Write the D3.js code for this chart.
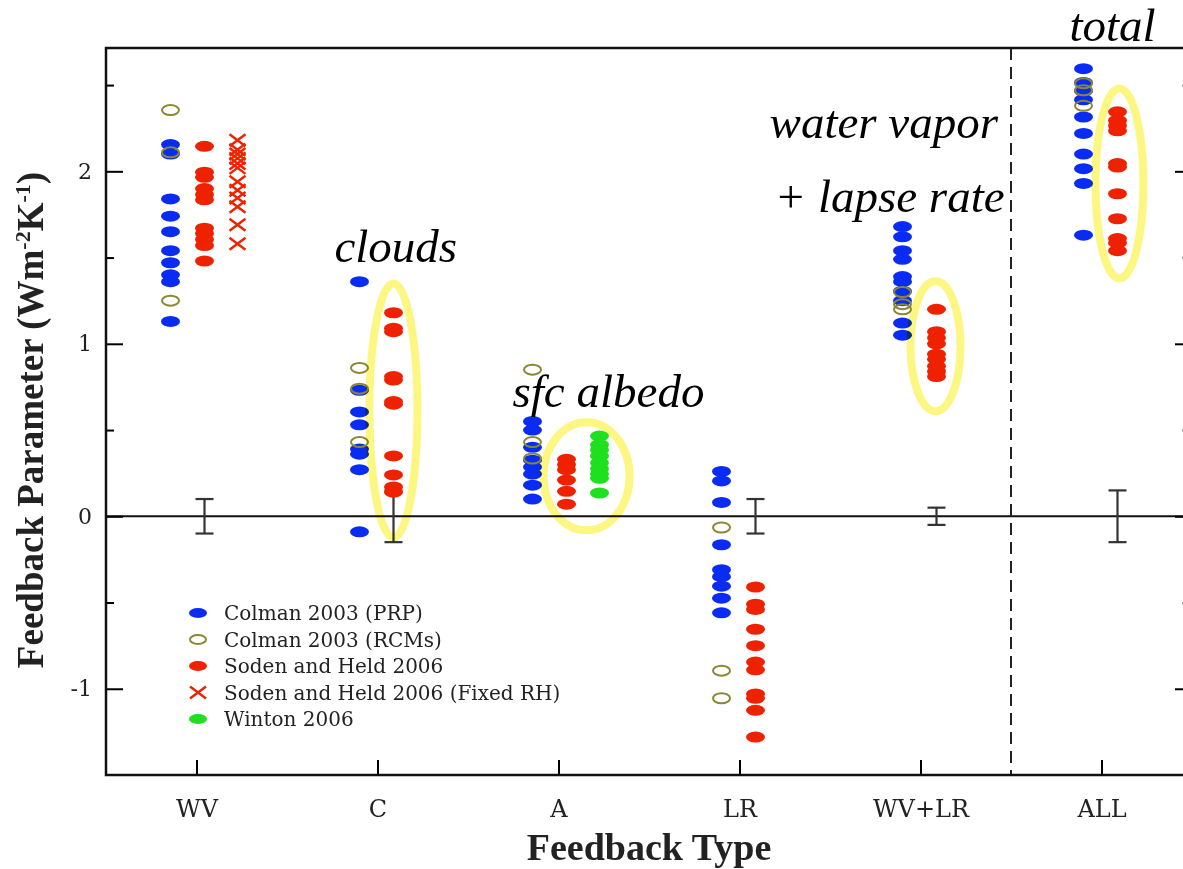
<!DOCTYPE html>
<html>
<head>
<meta charset="utf-8">
<script src="https://cdn.jsdelivr.net/npm/d3@7"></script>
<style>
  html, body { margin: 0; padding: 0; background: #fff; }
  svg { display: block; }
  .tick text { fill: #222; }
</style>
</head>
<body>
<svg id="chart" width="1183" height="869"></svg>
<script>
// feedback categories along the x axis
var categories = ['WV', 'C', 'A', 'LR', 'WV+LR', 'ALL'];

// Colman 2003 (PRP), one list per category
var colmanPRP = [
  [2.155, 2.10, 1.84, 1.74, 1.65, 1.54, 1.47, 1.40, 1.36, 1.13],
  [1.36, 0.73, 0.605, 0.53, 0.39, 0.36, 0.27, -0.09],
  [0.55, 0.50, 0.40, 0.325, 0.285, 0.245, 0.18, 0.10],
  [0.26, 0.205, 0.08, -0.165, -0.31, -0.35, -0.405, -0.475, -0.56],
  [1.68, 1.62, 1.54, 1.49, 1.39, 1.36, 1.305, 1.25, 1.12, 1.05],
  [2.595, 2.515, 2.465, 2.415, 2.315, 2.22, 2.10, 2.015, 1.93, 1.63]
];
// Colman 2003 (RCMs)
var colmanRCM = [
  [2.355, 2.11, 1.25],
  [0.86, 0.74, 0.43],
  [0.85, 0.43, 0.335],
  [-0.065, -0.895, -1.055],
  [1.30, 1.23, 1.20],
  [2.51, 2.47, 2.38]
];
// Soden and Held 2006
var sodenHeld = [
  [2.145, 1.995, 1.965, 1.90, 1.865, 1.835, 1.67, 1.64, 1.605, 1.57, 1.48],
  [1.18, 1.09, 1.07, 0.81, 0.79, 0.665, 0.65, 0.35, 0.24, 0.17, 0.14],
  [0.33, 0.30, 0.27, 0.21, 0.145, 0.07],
  [-0.41, -0.51, -0.54, -0.655, -0.75, -0.845, -0.89, -1.03, -1.055, -1.125, -1.28],
  [1.20, 1.07, 1.035, 1.0, 0.94, 0.91, 0.87, 0.84, 0.81],
  [2.345, 2.295, 2.265, 2.235, 2.045, 2.025, 1.87, 1.725, 1.61, 1.585, 1.54]
];
// Soden and Held 2006 (Fixed RH) - WV only
var sodenHeldFixedRH = [2.18, 2.125, 2.10, 2.075, 2.045, 2.02, 1.94, 1.89, 1.845, 1.795, 1.69, 1.58];
// Winton 2006 - A only
var winton = [0.465, 0.415, 0.385, 0.35, 0.31, 0.275, 0.245, 0.22, 0.135];
// error bar half widths per category (none for A)
var errorHalf = [0.1, 0.15, null, 0.1, 0.05, 0.15];

var yMajor = [-1, 0, 1, 2];
var yMinor = [-0.5, 0.5, 1.5, 2.5];

var legendNames = ['Colman 2003 (PRP)', 'Colman 2003 (RCMs)', 'Soden and Held 2006',
  'Soden and Held 2006 (Fixed RH)', 'Winton 2006'];

var svg = d3.select('#chart');

var x = d3.scaleLinear().domain([0.5, 6.5]).range([106, 1192]);
var y = d3.scaleLinear().domain([-1.5, 2.715]).range([775, 48]);

var BLUE = '#0a2cf2', RED = '#ee2200', GREEN = '#1ee01e', OLIVE = '#8a8733', YEL = '#fcf783';

// column offsets (px) inside a category
var threeCol = [-26, 8, 41], twoCol = [-18, 16];
function colX(ci, col) {
  var offs = (ci === 0 || ci === 2) ? threeCol : twoCol;
  return x(ci + 1) + offs[col];
}

function flatten(series) {
  var out = [];
  series.forEach(function (vals, ci) {
    vals.forEach(function (v) { out.push({ ci: ci, v: v }); });
  });
  return out;
}

var g = svg.append('g');

// zero line
g.append('line')
  .attr('x1', x(0.5)).attr('x2', x(6.5))
  .attr('y1', y(0)).attr('y2', y(0))
  .attr('stroke', '#111').attr('stroke-width', 2);

// dashed separator before ALL
g.append('line')
  .attr('x1', x(5.5)).attr('x2', x(5.5))
  .attr('y1', y(2.715)).attr('y2', y(-1.5))
  .attr('stroke', '#222').attr('stroke-width', 2)
  .attr('stroke-dasharray', '12,7');

// axes
var left = svg.append('g').attr('transform', 'translate(' + x(0.5) + ',0)')
  .call(d3.axisLeft(y).tickValues(yMajor).tickSize(-17).tickPadding(14)
    .tickFormat(function (d) { return String(d); }));
left.selectAll('text').style('font-family', '"DejaVu Serif", serif').style('font-size', '22px');

svg.append('g').attr('transform', 'translate(' + x(0.5) + ',0)')
  .call(d3.axisLeft(y).tickValues(yMinor).tickSize(-8).tickFormat(''));

svg.append('g').attr('transform', 'translate(' + x(6.5) + ',0)')
  .call(d3.axisRight(y).tickValues(yMajor).tickSize(-17).tickFormat(''));
svg.append('g').attr('transform', 'translate(' + x(6.5) + ',0)')
  .call(d3.axisRight(y).tickValues(yMinor).tickSize(-10).tickFormat(''))
  .selectAll('line').attr('stroke', '#999');

var bottom = svg.append('g').attr('transform', 'translate(0,' + y(-1.5) + ')')
  .call(d3.axisBottom(x).tickValues([1, 2, 3, 4, 5, 6]).tickSize(-15).tickPadding(25)
    .tickFormat(function (d) { return categories[d - 1]; }));
bottom.selectAll('text').style('font-family', '"DejaVu Serif", serif').style('font-size', '24px');

svg.selectAll('.domain').remove();
svg.selectAll('.tick line').attr('stroke-width', 2);

// frame
svg.append('rect')
  .attr('x', x(0.5)).attr('y', y(2.715))
  .attr('width', x(6.5) - x(0.5)).attr('height', y(-1.5) - y(2.715))
  .attr('fill', 'none').attr('stroke', '#111').attr('stroke-width', 2.5);

// error bars
var errs = errorHalf.map(function (h, ci) { return { ci: ci, h: h }; })
  .filter(function (d) { return d.h !== null; });
var eb = g.selectAll('.err').data(errs).enter().append('g').attr('class', 'err')
  .attr('stroke', '#333').attr('stroke-width', 2.2);
eb.append('line')
  .attr('x1', function (d) { return colX(d.ci, 1); }).attr('x2', function (d) { return colX(d.ci, 1); })
  .attr('y1', function (d) { return y(d.h); }).attr('y2', function (d) { return y(-d.h); });
[1, -1].forEach(function (s) {
  eb.append('line')
    .attr('x1', function (d) { return colX(d.ci, 1) - 9; }).attr('x2', function (d) { return colX(d.ci, 1) + 9; })
    .attr('y1', function (d) { return y(s * d.h); }).attr('y2', function (d) { return y(s * d.h); });
});

// markers
var pts = g.append('g');
pts.selectAll('.prp').data(flatten(colmanPRP)).enter().append('ellipse')
  .attr('cx', function (d) { return colX(d.ci, 0); }).attr('cy', function (d) { return y(d.v); })
  .attr('rx', 9.5).attr('ry', 5.5).attr('fill', BLUE);

pts.selectAll('.rcm').data(flatten(colmanRCM)).enter().append('ellipse')
  .attr('cx', function (d) { return colX(d.ci, 0); }).attr('cy', function (d) { return y(d.v); })
  .attr('rx', 8.5).attr('ry', 5).attr('fill', 'none').attr('stroke', OLIVE).attr('stroke-width', 2);

pts.selectAll('.sh').data(flatten(sodenHeld)).enter().append('ellipse')
  .attr('cx', function (d) { return colX(d.ci, 1); }).attr('cy', function (d) { return y(d.v); })
  .attr('rx', 9.5).attr('ry', 5.5).attr('fill', RED);

pts.selectAll('.fix').data(sodenHeldFixedRH).enter().append('path')
  .attr('transform', function (d) { return 'translate(' + colX(0, 2) + ',' + y(d) + ')'; })
  .attr('d', 'M-8,-6L8,6M-8,6L8,-6')
  .attr('stroke', RED).attr('stroke-width', 2.4).attr('fill', 'none');

pts.selectAll('.win').data(winton).enter().append('ellipse')
  .attr('cx', colX(2, 2)).attr('cy', function (d) { return y(d); })
  .attr('rx', 9.5).attr('ry', 5.5).attr('fill', GREEN);

// highlight ellipses (data coords: centre cat / value, radii in px)
var rings = [
  { cx: 2.088, cy: 0.614, rx: 24, ry: 127 },
  { cx: 3.155, cy: 0.232, rx: 43, ry: 54 },
  { cx: 5.083, cy: 0.986, rx: 25, ry: 65 },
  { cx: 6.099, cy: 1.930, rx: 24, ry: 95 }
];
svg.selectAll('.ring').data(rings).enter().append('ellipse')
  .attr('cx', function (d) { return x(d.cx); }).attr('cy', function (d) { return y(d.cy); })
  .attr('rx', function (d) { return d.rx; }).attr('ry', function (d) { return d.ry; })
  .attr('fill', 'none').attr('stroke', YEL).attr('stroke-width', 8)
  .style('mix-blend-mode', 'multiply');

// annotations
var notes = [
  { t: 'clouds', x: 1.762, y: 1.472 },
  { t: 'sfc albedo', x: 2.746, y: 0.632 },
  { t: 'water vapor', x: 4.166, y: 2.191 },
  { t: '+ lapse rate', x: 4.193, y: 1.762 },
  { t: 'total', x: 5.823, y: 2.753 }
];
svg.selectAll('.note').data(notes).enter().append('text')
  .attr('x', function (d) { return x(d.x); }).attr('y', function (d) { return y(d.y); })
  .style('font-family', '"Liberation Serif", serif').style('font-style', 'italic')
  .style('font-size', '47px').attr('fill', '#000')
  .text(function (d) { return d.t; });

// legend
var lg = svg.append('g').attr('transform', 'translate(198,613)');
var rows = lg.selectAll('g').data(legendNames).enter().append('g')
  .attr('transform', function (d, i) { return 'translate(0,' + (i * 26.5) + ')'; });
rows.each(function (d, i) {
  var r = d3.select(this);
  if (i === 0 || i === 2 || i === 4) {
    r.append('ellipse').attr('rx', 9).attr('ry', 5).attr('fill', [BLUE, null, RED, null, GREEN][i]);
  } else if (i === 1) {
    r.append('ellipse').attr('rx', 8).attr('ry', 4.5).attr('fill', 'none').attr('stroke', OLIVE).attr('stroke-width', 2);
  } else {
    r.append('path').attr('d', 'M-8,-6L8,6M-8,6L8,-6').attr('stroke', RED).attr('stroke-width', 2.4);
  }
  r.append('text').attr('x', 26).attr('dy', '0.35em')
    .style('font-family', '"DejaVu Serif", serif').style('font-size', '20px').attr('fill', '#222')
    .text(d);
});

// axis titles
var yt = svg.append('text')
  .attr('transform', 'translate(43,' + 420 + ') rotate(-90)')
  .attr('text-anchor', 'middle')
  .style('font-family', '"Liberation Serif", serif').style('font-weight', 'bold').style('font-size', '37px')
  .attr('fill', '#222');
yt.append('tspan').text('Feedback Parameter (Wm');
yt.append('tspan').attr('dy', -13).style('font-size', '22px').text('-2');
yt.append('tspan').attr('dy', 13).text('K');
yt.append('tspan').attr('dy', -13).style('font-size', '22px').text('-1');
yt.append('tspan').attr('dy', 13).text(')');

svg.append('text')
  .attr('x', (x(0.5) + x(6.5)) / 2).attr('y', 860)
  .attr('text-anchor', 'middle')
  .style('font-family', '"Liberation Serif", serif').style('font-weight', 'bold').style('font-size', '38px')
  .attr('fill', '#222')
  .text('Feedback Type');
</script>
</body>
</html>
